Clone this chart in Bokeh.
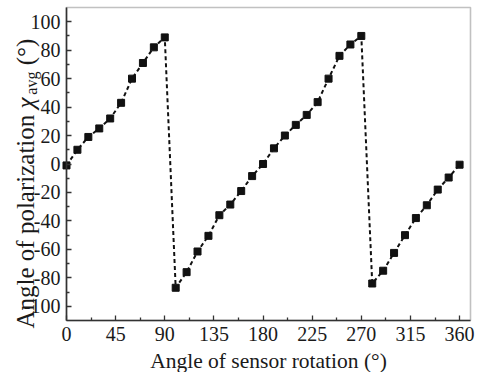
import math
from bokeh.plotting import figure
from bokeh.models import FixedTicker, Range1d, Label, BoxAnnotation
from bokeh.embed import file_html
from bokeh.resources import INLINE

# ---- data ----
angles = list(range(0, 361, 10))
chi_avg = [-1, 10, 19, 25, 32, 43, 60, 71, 82, 89,
           -87, -76, -61.5, -50.5, -36, -28.5, -19, -8.5,
           0, 11, 20, 27.5, 34.5, 43.5, 60, 76, 84, 90,
           -84, -75, -62.5, -50, -38, -29, -18, -9.5, -0.5]

x_ticks = [0, 45, 90, 135, 180, 225, 270, 315, 360]
x_minor = [22.5, 67.5, 112.5, 157.5, 202.5, 247.5, 292.5, 337.5]
y_ticks = [-100, -80, -60, -40, -20, 0, 20, 40, 60, 80, 100]
y_minor = [-90, -70, -50, -30, -10, 10, 30, 50, 70, 90]
y_tick_labels = ["-100", "-80", "-60", "-40", "-20", "0", "20", "40", "60", "80", "100"]

x_title = "Angle of sensor rotation (°)"
y_title_main = "Angle of polarization"
y_title_sym = "χ"
y_title_sub = "avg"
y_title_unit = "(°)"

FONT = "Liberation Serif"
TXT = "#1a1a1a"
EDGE = "#333333"

# plot box (data limits) and its placement on the 477x372 canvas
XR = (0, 370)
YR = (-110, 110)
W, H = 477, 372
BOX_L, BOX_R, BOX_T, BOX_B = 66, 470, 7, 320
kx = (BOX_R - BOX_L) / (XR[1] - XR[0])
ky = (BOX_B - BOX_T) / (YR[1] - YR[0])
x_lo = XR[0] - BOX_L / kx
x_hi = XR[1] + (W - BOX_R) / kx
y_hi = YR[1] + BOX_T / ky
y_lo = YR[0] - (H - BOX_B) / ky

p = figure(frame_width=W, frame_height=H,
           output_backend="svg", toolbar_location=None,
           x_range=Range1d(x_lo, x_hi), y_range=Range1d(y_lo, y_hi),
           min_border=0)

p.background_fill_color = "white"
p.border_fill_color = "white"
p.outline_line_color = None
p.xgrid.visible = False
p.ygrid.visible = False

xa, ya = p.xaxis[0], p.yaxis[0]
xa.fixed_location = YR[0]
ya.fixed_location = XR[0]
xa.bounds = XR
ya.bounds = YR
for ax in (xa, ya):
    ax.axis_line_color = EDGE
    ax.axis_line_width = 1.6
    ax.major_tick_in = 5
    ax.major_tick_out = 0
    ax.minor_tick_in = 3
    ax.minor_tick_out = 0
    ax.major_tick_line_color = EDGE
    ax.minor_tick_line_color = EDGE
    ax.major_tick_line_width = 1.3
    ax.minor_tick_line_width = 1.3
    ax.major_label_text_font = FONT
    ax.major_label_text_font_size = "20px"
    ax.major_label_text_color = TXT
    ax.major_label_standoff = 6

xa.ticker = FixedTicker(ticks=x_ticks, minor_ticks=x_minor)
ya.ticker = FixedTicker(ticks=y_ticks, minor_ticks=y_minor)
ya.major_label_overrides = dict(zip(y_ticks, y_tick_labels))

# plot box outline
p.add_layout(BoxAnnotation(left=XR[0], right=XR[1], bottom=YR[0], top=YR[1],
                           fill_alpha=0, line_color=EDGE, line_width=1.6,
                           level="overlay"))

p.line(angles, chi_avg, line_color="#111111", line_width=2, line_dash="4 3")
p.scatter(angles, chi_avg, marker="square", size=7, fill_color="#111111",
          line_color="#111111")

# x title
p.add_layout(Label(x=(XR[0] + XR[1]) / 2, y=YR[0] - 40 / ky,
                   text=x_title, text_font=FONT, text_font_size="21.5px",
                   text_color=TXT, text_align="center",
                   text_baseline="alphabetic"))

# y title pieces (rotated, reading bottom to top), vertically centred column
F = 25
cx = XR[0] - (66 - 25) / kx
y0 = YR[0] - 8 / ky
pieces = [
    (y_title_main, F, "normal", 0, 8.804 * F),
    (y_title_sym, F, "italic", 0, 0.55 * F),
    (y_title_sub, 16, "normal", 6, 1.444 * 16 + 0.25 * F),
    (y_title_unit, F, "normal", 0, 1.066 * F),
]
ypos = y0
for txt, fs, style, dx, adv in pieces:
    p.add_layout(Label(x=cx + dx / kx, y=ypos,
                       text=txt, text_font=FONT, text_font_size=f"{fs}px",
                       text_font_style=style, text_color=TXT,
                       text_align="left", text_baseline="middle",
                       angle=math.pi / 2))
    ypos += adv / ky

open("out.html", "w").write(file_html(p, INLINE))
